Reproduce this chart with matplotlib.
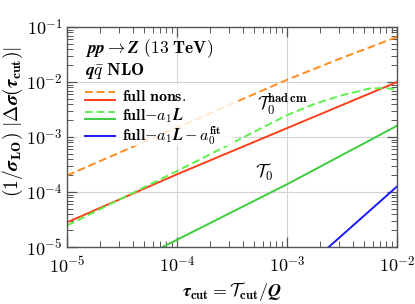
import numpy as np
import matplotlib
matplotlib.use('Agg')
import matplotlib.pyplot as plt
from matplotlib.patches import Rectangle
from matplotlib.ticker import LogLocator, FuncFormatter, NullFormatter

# values (log-log axes)
tau_nons_had = [1e-5, 1e-4, 1e-3, 3.16e-3, 1e-2]
dsig_nons_had = [2.0e-4, 1.48e-3, 1.10e-2, 2.75e-2, 6.6e-2]

tau_nons = [1e-5, 1e-4, 1e-3, 1e-2]
dsig_nons = [2.8e-5, 2.1e-4, 1.45e-3, 1.0e-2]

tau_a1_had = [1e-5, 1e-4, 1e-3, 1.78e-3, 3.16e-3, 5.6e-3, 7.9e-3, 1e-2]
dsig_a1_had = [2.45e-5, 2.4e-4, 2.5e-3, 4.0e-3, 5.75e-3, 7.6e-3, 7.8e-3, 7.2e-3]

tau_a1 = [7.4e-5, 1e-3, 1e-2]
dsig_a1 = [1e-5, 1.38e-4, 1.6e-3]

tau_a0 = [2.4e-3, 1e-2]
dsig_a0 = [1e-5, 1.26e-4]

legend_labels = [r'$\mathbf{full\ nons.}$',
                 r'$\mathbf{full}\boldsymbol{-a_1L}$',
                 r'$\mathbf{full}\boldsymbol{-a_1L-a_0^{\mathbf{fit}}}$']

plt.rcParams['mathtext.fontset'] = 'cm'
plt.rcParams['font.family'] = 'serif'
plt.rcParams['font.serif'] = ['cmb10', 'DejaVu Serif']
plt.rcParams['axes.unicode_minus'] = False

ORANGE = '#ff8c1a'
RED = '#ff4019'
LGREEN = '#5cf24a'
GREEN = '#3ccc3c'
BLUE = '#1a1aff'

fig = plt.figure(figsize=(4.15, 3.04), dpi=100)
ax = fig.add_axes([0.1614, 0.1875, 0.7952, 0.7235])

dash = (4, 2)
lw = 1.4
ax.plot(tau_nons_had, dsig_nons_had, color=ORANGE, lw=lw, dashes=dash, zorder=2)
ax.plot(tau_nons, dsig_nons, color=RED, lw=lw, zorder=2)
ax.plot(tau_a1_had, dsig_a1_had, color=LGREEN, lw=lw, dashes=dash, zorder=2)
ax.plot(tau_a1, dsig_a1, color=GREEN, lw=lw, zorder=2)
ax.plot(tau_a0, dsig_a0, color=BLUE, lw=lw, zorder=2)

ax.set_xscale('log')
ax.set_yscale('log')
ax.set_xlim(1e-5, 1e-2)
ax.set_ylim(1e-5, 1e-1)

def fmt(v, pos):
    e = int(round(np.log10(v)))
    return r'$\mathbf{10}^{\mathbf{%d}}$' % e

for axis in (ax.xaxis, ax.yaxis):
    axis.set_major_locator(LogLocator(base=10, numticks=10))
    axis.set_minor_locator(LogLocator(base=10, subs=np.arange(2, 10), numticks=10))
    axis.set_major_formatter(FuncFormatter(fmt))
    axis.set_minor_formatter(NullFormatter())

ax.tick_params(which='both', direction='in', top=True, right=True, color='#555555')
ax.tick_params(which='major', length=7, width=0.9, labelsize=13)
ax.tick_params(which='minor', length=4, width=0.7)
ax.tick_params(axis='x', pad=6)
ax.tick_params(axis='y', pad=3)
for sp in ax.spines.values():
    sp.set_color('#555555')
    sp.set_linewidth(1.0)
ax.grid(True, which='major', color='#d4d4d4', lw=0.8, zorder=0)

# semi-transparent legend box
ax.add_patch(Rectangle((0.02, 0.46), 0.49, 0.28, transform=ax.transAxes,
                       facecolor='white', alpha=0.8, edgecolor='none', zorder=3))

x0, x1, xt = 0.055, 0.145, 0.166
ax.plot([x0, x1], [0.705, 0.705], transform=ax.transAxes, color=ORANGE, lw=lw, dashes=dash, zorder=4)
ax.plot([x0, x1], [0.668, 0.668], transform=ax.transAxes, color=RED, lw=lw, zorder=4)
ax.plot([x0, x1], [0.614, 0.614], transform=ax.transAxes, color=LGREEN, lw=lw, dashes=dash, zorder=4)
ax.plot([x0, x1], [0.582, 0.582], transform=ax.transAxes, color=GREEN, lw=lw, zorder=4)
ax.plot([x0, x1], [0.505, 0.505], transform=ax.transAxes, color=BLUE, lw=lw, zorder=4)
for y, lab in zip([0.685, 0.598, 0.508], legend_labels):
    ax.text(xt, y, lab, transform=ax.transAxes, fontsize=11.5, va='center', ha='left', zorder=5)

ax.text(0.055, 0.9, r'$\boldsymbol{pp\to Z}\ \mathbf{(13\ TeV)}$', transform=ax.transAxes,
        fontsize=12.5, va='center', ha='left', zorder=5)
ax.text(0.055, 0.8, r'$\boldsymbol{q\bar{q}}\ \mathbf{NLO}$', transform=ax.transAxes,
        fontsize=12.5, va='center', ha='left', zorder=5)

ax.text(0.575, 0.645, r'$\mathcal{T}_{\mathbf{0}}^{\mathbf{had\,cm}}$', transform=ax.transAxes,
        fontsize=13, va='center', ha='left', zorder=5)
ax.text(0.57, 0.34, r'$\mathcal{T}_{\mathbf{0}}$', transform=ax.transAxes,
        fontsize=13, va='center', ha='left', zorder=5)

fig.text(0.559, 0.04, r'$\boldsymbol{\tau}_{\mathbf{cut}} = \mathcal{T}_{\mathbf{cut}}/\boldsymbol{Q}$',
         fontsize=13, ha='center', va='center')
fig.text(0.032, 0.6, r'$\mathbf{(1/}\boldsymbol{\sigma}_{\mathbf{LO}}\mathbf{)}\ |\mathbf{\Delta}\boldsymbol{\sigma}(\boldsymbol{\tau}_{\mathbf{cut}})|$',
         fontsize=14, ha='center', va='center', rotation=90)

fig.savefig('out.png', dpi=100)
